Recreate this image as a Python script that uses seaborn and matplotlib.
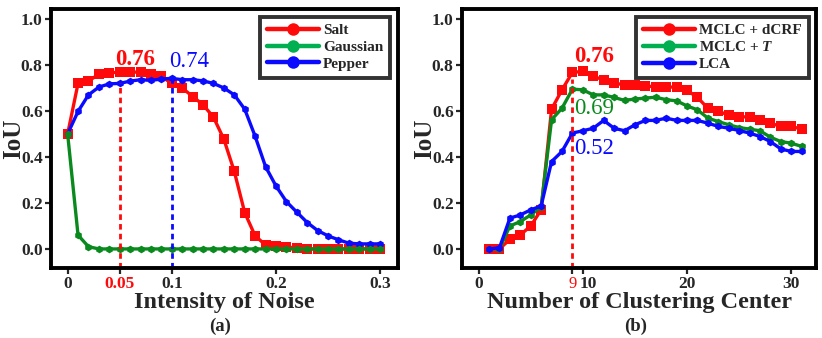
import numpy as np
import pandas as pd
import matplotlib
matplotlib.use('Agg')
import matplotlib.pyplot as plt
import matplotlib.transforms as mtransforms
from matplotlib.lines import Line2D
import seaborn as sns

# panel (a): IoU vs intensity of noise
noise = [round(0.01 * i, 2) for i in range(31)]
salt = [0.50, 0.72, 0.73, 0.76, 0.765, 0.77, 0.77, 0.768, 0.762, 0.75, 0.72,
        0.70, 0.663, 0.627, 0.573, 0.477, 0.337, 0.158, 0.057, 0.017, 0.015,
        0.01, 0.003, 0.0, 0.0, 0.0, 0.0, 0.0, 0.0, 0.0, 0.0]
gaussian = [0.50, 0.06, 0.01] + [0.0] * 28
pepper = [0.50, 0.598, 0.67, 0.704, 0.718, 0.72, 0.73, 0.736, 0.733, 0.739, 0.742,
          0.736, 0.736, 0.731, 0.72, 0.70, 0.67, 0.608, 0.49, 0.358, 0.274,
          0.206, 0.16, 0.115, 0.08, 0.057, 0.04, 0.025, 0.022, 0.022, 0.022]

# panel (b): IoU vs number of clustering centers
centers = list(range(1, 32))
mclc_dcrf = [0.0, 0.0, 0.042, 0.061, 0.10, 0.17, 0.608, 0.692, 0.768, 0.772, 0.75,
             0.736, 0.721, 0.714, 0.714, 0.71, 0.704, 0.704, 0.704, 0.69, 0.659,
             0.612, 0.598, 0.583, 0.576, 0.573, 0.562, 0.547, 0.533, 0.533, 0.521]
mclc_t = [0.0, 0.0, 0.10, 0.119, 0.148, 0.184, 0.562, 0.612, 0.695, 0.692, 0.67,
          0.67, 0.659, 0.646, 0.652, 0.656, 0.66, 0.649, 0.644, 0.622, 0.605,
          0.569, 0.554, 0.54, 0.528, 0.521, 0.514, 0.486, 0.467, 0.46, 0.446]
lca = [0.0, 0.005, 0.134, 0.148, 0.17, 0.187, 0.38, 0.424, 0.504, 0.514, 0.525,
       0.559, 0.525, 0.514, 0.54, 0.559, 0.559, 0.569, 0.559, 0.559, 0.559,
       0.547, 0.533, 0.525, 0.515, 0.504, 0.489, 0.467, 0.435, 0.424, 0.424]

RED = '#ff0a0a'
GREEN = '#0a8a1e'
GREEN_LEG = '#00b050'
BLUE = '#0a0aff'

sns.set_style('white')
plt.rcParams['font.family'] = ['Liberation Serif', 'DejaVu Serif']
plt.rcParams['mathtext.fontset'] = 'custom'
plt.rcParams['mathtext.it'] = 'Liberation Serif:italic:bold'

df_a = pd.DataFrame({'x': noise * 3,
                     'y': salt + gaussian + pepper,
                     'series': ['Salt'] * 31 + ['Gaussian'] * 31 + ['Pepper'] * 31})
df_b = pd.DataFrame({'x': centers * 3,
                     'y': mclc_dcrf + mclc_t + lca,
                     'series': ['MCLC + dCRF'] * 31 + ['MCLC + $T$'] * 31 + ['LCA'] * 31})

fig = plt.figure(figsize=(8.22, 3.38), dpi=100)
ax1 = fig.add_axes([0.062, 0.207, 0.422, 0.766])
ax2 = fig.add_axes([0.562, 0.207, 0.431, 0.766])

pal_a = {'Salt': RED, 'Gaussian': GREEN, 'Pepper': BLUE}
mk_a = {'Salt': 's', 'Gaussian': 'h', 'Pepper': 'h'}
pal_b = {'MCLC + dCRF': RED, 'MCLC + $T$': GREEN, 'LCA': BLUE}
mk_b = {'MCLC + dCRF': 's', 'MCLC + $T$': 'h', 'LCA': 'h'}

# draw order: make red/blue on top like the reference
for name, ms in [('Salt', 6.5), ('Pepper', 5.5), ('Gaussian', 5.5)]:
    sub = df_a[df_a.series == name]
    sns.lineplot(data=sub, x='x', y='y', ax=ax1, color=pal_a[name], marker=mk_a[name],
                 markersize=ms, markeredgewidth=0, linewidth=2.4, legend=False)
for name, ms in [('MCLC + dCRF', 6.5), ('MCLC + $T$', 5.5), ('LCA', 5.5)]:
    sub = df_b[df_b.series == name]
    sns.lineplot(data=sub, x='x', y='y', ax=ax2, color=pal_b[name], marker=mk_b[name],
                 markersize=ms, markeredgewidth=0, linewidth=2.4, legend=False)

# dashed markers of the best values
ax1.plot([0.05, 0.05], [-0.083, 0.72], ls=(0, (2, 1.5)), color=RED, lw=2, clip_on=False)
ax1.plot([0.10, 0.10], [-0.083, 0.745], ls=(0, (2, 1.5)), color=BLUE, lw=2, clip_on=False)
ax2.plot([9, 9], [-0.083, 0.74], ls=(0, (2, 1.5)), color=RED, lw=2, clip_on=False)

ax1.text(0.046, 0.78, '0.76', color=RED, fontsize=16.5, fontweight='bold', va='bottom')
ax1.text(0.0975, 0.77, '0.74', color=BLUE, fontsize=16.5, va='bottom')
ax2.text(9.2, 0.79, '0.76', color=RED, fontsize=16.5, fontweight='bold', va='bottom')
ax2.text(9.2, 0.61, '0.69', color=GREEN, fontsize=16.5, va='center')
ax2.text(9.2, 0.435, '0.52', color=BLUE, fontsize=16.5, va='center')

for ax in (ax1, ax2):
    ax.set_ylim(-0.083, 1.043)
    ax.set_yticks([0.0, 0.2, 0.4, 0.6, 0.8, 1.0])
    ax.set_yticklabels(['0.0', '0.2', '0.4', '0.6', '0.8', '1.0'])
    for s in ax.spines.values():
        s.set_linewidth(2.8)
        s.set_color('black')
    ax.tick_params(axis='both', direction='out', length=4, width=1.6, labelsize=12.5,
                   left=True, bottom=True, pad=2)
    for lab in ax.get_yticklabels() + ax.get_xticklabels():
        lab.set_fontweight('bold')
    ax.set_ylabel('IoU', fontsize=18, fontweight='bold', labelpad=-3)

ax1.set_xlim(-0.016, 0.317)
ax1.set_xticks([0, 0.05, 0.1, 0.2, 0.3])
ax1.set_xticklabels(['0', '0.05', '0.1', '0.2', '0.3'], fontweight='bold')
ax1.get_xticklabels()[1].set_color(RED)
ax1.set_xlabel('Intensity of Noise', fontsize=17.5, fontweight='bold', labelpad=0)

ax2.set_xlim(-1.6, 32.4)
ax2.set_xticks([0, 9, 10, 20, 30])
ax2.set_xticklabels(['0', '9', '10', '20', '30'], fontweight='bold')
ax2.get_xticklabels()[1].set_color(RED)
ax2.get_xticklabels()[1].set_fontweight('normal')
ax2.get_xticklabels()[1].set_fontsize(12)
# nudge "10" right so it does not collide with the red "9"
lab10 = ax2.get_xticklabels()[2]
lab10.set_transform(lab10.get_transform() + mtransforms.ScaledTranslation(5 / 100, 0, fig.dpi_scale_trans))
ax2.set_xlabel('Number of Clustering Center', fontsize=17.5, fontweight='bold', labelpad=0)

fig.text(0.268, 0.022, '(a)', fontsize=13.5, fontweight='bold', ha='center')
fig.text(0.773, 0.022, '(b)', fontsize=13.5, fontweight='bold', ha='center')


def make_legend(ax, names, colors):
    handles = [Line2D([0], [0], color=c, lw=3.2, marker='o', markersize=9,
                      markevery=[0, -1], markeredgewidth=0) for c in colors]
    leg = ax.legend(handles, names, loc='upper right', frameon=True, fancybox=False,
                    prop={'weight': 'bold', 'size': 11}, handlelength=3.4,
                    handletextpad=0.3, labelspacing=0.2, borderpad=0.45,
                    borderaxespad=0.5)
    leg.get_frame().set_edgecolor('black')
    leg.get_frame().set_linewidth(2.8)
    return leg


make_legend(ax1, ['Salt', 'Gaussian', 'Pepper'], [RED, GREEN_LEG, BLUE])
make_legend(ax2, ['MCLC + dCRF', 'MCLC + $T$', 'LCA'], [RED, GREEN_LEG, BLUE])

plt.savefig('out.png', dpi=100)
